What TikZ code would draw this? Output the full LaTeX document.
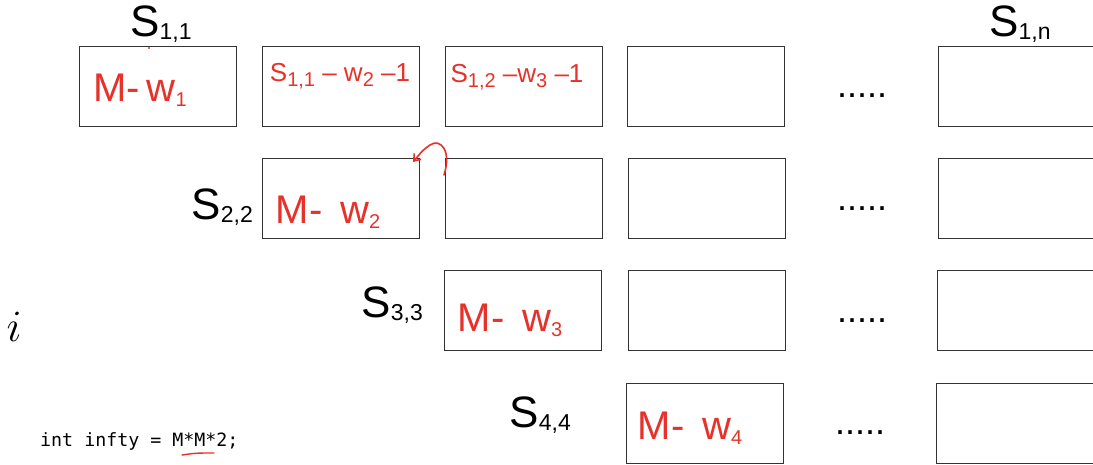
\documentclass[tikz,border=0pt]{standalone}
\usepackage{fontspec}
\setmainfont{Liberation Sans}
\setmonofont{DejaVu Sans Mono}
\usetikzlibrary{arrows.meta}
\definecolor{ink}{HTML}{E5322B}
\definecolor{edge}{HTML}{333333}
% state label S_{r,c}: large S with a smaller, slightly lowered index
\newcommand{\Slab}[1]{{\fontsize{44}{44}\selectfont S}\raisebox{-3pt}{\fontsize{23}{23}\selectfont #1}}
% red hand-written sub index
\newcommand{\hsub}[1]{\raisebox{-5pt}{\fontsize{20}{20}\selectfont #1}}
\tikzset{
  cell/.style={draw=edge, line width=1pt, minimum width=157pt, minimum height=80pt,
               inner sep=0pt, anchor=north west},
  lab/.style={inner sep=0pt, text=black},
  dots/.style={inner sep=0pt, font=\fontsize{36}{36}\selectfont},
  note/.style={inner sep=0pt, text=ink},
  big/.style={note, font=\fontsize{40}{40}\selectfont},
  small/.style={note, font=\fontsize{26}{26}\selectfont},
}
\begin{document}
\begin{tikzpicture}[x=1pt,y=-1pt]
\useasboundingbox (0,0) rectangle (1093,464);

% ---- grid of cells ----
\node[cell] (c11) at (79,46) {};
\node[cell] (c12) at (262,46) {};
\node[cell] (c13) at (445,46) {};
\node[cell] (c14) at (627,46) {};
\node[cell] (c1n) at (938,46) {};

\node[cell] (c22) at (262,158) {};
\node[cell] (c23) at (445,158) {};
\node[cell] (c24) at (628,158) {};
\node[cell] (c2n) at (938,158) {};

\node[cell] (c33) at (444,270) {};
\node[cell] (c34) at (628,270) {};
\node[cell] (c3n) at (937,270) {};

\node[cell] (c44) at (626,383) {};
\node[cell] (c4n) at (936,383) {};

% ---- ellipses between the columns ----
\node[dots] (d1) at (862,96) {.....};
\node[dots] (d2) at (862,209) {.....};
\node[dots] (d3) at (862,321) {.....};
\node[dots] (d4) at (860,433) {.....};

% ---- state labels ----
\node[lab, anchor=south] (s11) at (161,43) {\Slab{1,1}};
\node[lab, anchor=south] (s1n) at (1020,43) {\Slab{1,n}};
\node[lab, anchor=east] (s22) at (253,207) {\Slab{2,2}};
\node[lab, anchor=east] (s33) at (423,305) {\Slab{3,3}};
\node[lab, anchor=east] (s44) at (571,415) {\Slab{4,4}};

\node[lab, font=\Huge, scale=1.8] (iv) at (14,327) {$i$};

\node[lab, anchor=base west] (code) at (40,446)
  {\ttfamily\fontsize{18.3}{18.3}\selectfont int infty = M*M*2;};

% ---- red notes in the cells ----
\node[big] (n11) at (140,90) {M-\,w\hsub{1}};
\node[small] (n12) at (340,76) {S\hsub{1,1} -- w\hsub{2} --1};
\node[small] (n13) at (517,77) {S\hsub{1,2} --w\hsub{3} --1};
\node[big] (n22) at (328,212) {M- \,w\hsub{2}};
\node[big] (n33) at (510,320) {M- \,w\hsub{3}};
\node[big] (n44) at (690,428) {M- \,w\hsub{4}};

% small mark under S_{1,1}
\fill[ink] (149,48) circle (1.2pt);

% curved arrow from cell (2,3) back to cell (2,2)
\coordinate (from23) at (444,175);
\coordinate (to22) at (413,162);
\draw[ink, line width=1.6pt, line cap=round, -{Straight Barb[length=6pt,width=9pt]}]
  (from23) .. controls (452,150) and (440,138) .. (430,145)
  .. controls (423,150) .. (to22);

% underline under M*M*
\coordinate (ul1) at (182,455);
\coordinate (ul2) at (214,453);
\draw[ink, line width=1.4pt, line cap=round] (ul1) .. controls (196,453) .. (ul2);
\end{tikzpicture}
\end{document}
